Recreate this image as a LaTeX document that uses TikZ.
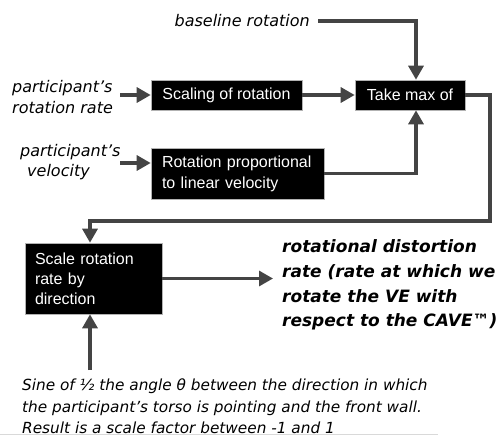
\documentclass[tikz,border=0pt]{standalone}
\usepackage{fontspec}
\setmainfont{Liberation Sans}
\newfontfamily\lblfont{DejaVu Sans Oblique}
\newfontfamily\bigfont{DejaVu Sans Bold Oblique}
\usetikzlibrary{arrows.meta}
\definecolor{arr}{HTML}{444444}
\begin{document}
\begin{tikzpicture}[x=1pt,y=-1pt,
  conn/.style={draw=arr, line width=3.2pt, -{Triangle[width=15pt,length=14pt]}},
  blk/.style={fill=black, draw=gray!60, line width=0.6pt, text=white,
    font=\fontsize{16}{20}\selectfont, inner sep=0pt},
  lbl/.style={font=\lblfont\fontsize{16}{20.5}\selectfont, inner sep=0pt, align=left},
]
\useasboundingbox (0,0) rectangle (500,437);

% boxes
\node[blk, minimum width=151pt, minimum height=30pt] (scal) at (226.5,95) {Scaling of rotation};
\node[blk, minimum width=110pt, minimum height=30pt] (max) at (410,95) {Take max of};
\node[blk, minimum width=173pt, minimum height=51pt, text width=151pt, inner xsep=11pt, align=left,
      font=\fontsize{16}{21}\selectfont] (prop) at (237.5,173.5) {Rotation proportional\\to linear velocity};
\node[blk, minimum width=137pt, minimum height=71pt, text width=117pt, inner xsep=10pt, align=left] (scl) at (93.5,278.5) {Scale rotation\\rate by\\direction};

% labels
\node[lbl, anchor=east] (base) at (310,21) {baseline rotation};
\node[lbl, anchor=west] (rr) at (12,97) {participant’s\\rotation rate};
\node[lbl, anchor=west] (vel) at (20,162) {participant’s\\\hspace*{7pt}velocity};
\node[anchor=west, inner sep=0pt, align=left, font=\bigfont\fontsize{17}{24.7}\selectfont] (out) at (282,285)
  {rotational distortion\\rate (rate at which we\\rotate the VE with\\respect to the CAVE™)};
\node[lbl, anchor=west, font=\lblfont\fontsize{15.3}{21.5}\selectfont] (bot) at (22,406.5)
  {Sine of ½ the angle θ between the direction in which\\the participant’s torso is pointing and the front wall.\\Result is a scale factor between -1 and 1};

% helper coordinates
\coordinate (rrA) at (120,95);
\coordinate (velA) at (120,163);
\coordinate (c1) at (490,221);
\coordinate (c2) at (90,221);
\coordinate (bA) at (90,370);
\coordinate (outtip) at (273,0);

% connectors
\draw[conn] ([xshift=8pt]base.east) -| ([xshift=6pt]max.north);
\draw[conn] (rrA) -- (scal.west);
\draw[conn] (scal.east) -- (max.west);
\draw[conn] (velA) -- (velA -| prop.west);
\draw[conn] (prop.east) -| ([xshift=6pt]max.south);
\draw[conn] (max.east) -| (c1) -- (c2) -- (c2 |- scl.north);
\draw[conn] (scl.east) -- (scl.east -| outtip);
\draw[conn] (bA) -- (bA |- scl.south);

% faint bottom rule
\draw[gray!30, line width=0.8pt] (0,434) -- (438,434);
\end{tikzpicture}
\end{document}
